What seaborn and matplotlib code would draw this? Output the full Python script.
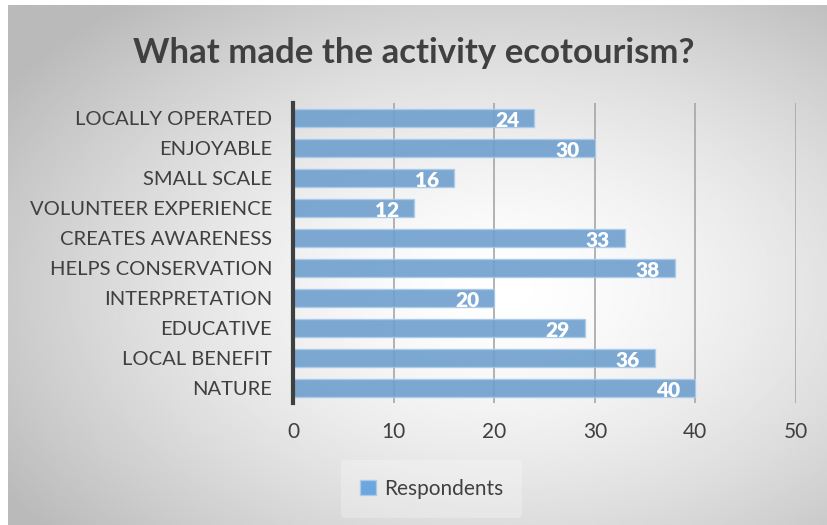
import matplotlib
matplotlib.use("Agg")
import matplotlib.pyplot as plt
import numpy as np
import pandas as pd
import seaborn as sns
from matplotlib.patches import Patch

# data, top to bottom as in the chart
categories = ["LOCALLY OPERATED", "ENJOYABLE", "SMALL SCALE", "VOLUNTEER EXPERIENCE",
              "CREATES AWARENESS", "HELPS CONSERVATION", "INTERPRETATION",
              "EDUCATIVE", "LOCAL BENEFIT", "NATURE"]
respondents = [24, 30, 16, 12, 33, 38, 20, 29, 36, 40]
x_ticks = [0, 10, 20, 30, 40, 50]

df = pd.DataFrame({"Category": categories, "Respondents": respondents})

sns.set_theme(style="white")
plt.rcParams['font.family'] = ['Lato', 'DejaVu Sans']
text_col = "#404040"
bar_col = "#5E9FDD"

fig = plt.figure(figsize=(8.27, 5.25), dpi=100)
fig.patch.set_facecolor("white")

# radial gray background like the excel chart area
bg = fig.add_axes([8/827, 0, 1 - 8/827, 1 - 5/525], zorder=-10)
gx, gy = np.meshgrid(np.linspace(0, 1, 400), np.linspace(0, 1, 260))
r = np.sqrt(((gx - 0.6) / 0.72) ** 2 + ((gy - 0.55) / 0.72) ** 2)
shade = 1.0 - 0.27 * np.clip(r, 0, 1) ** 1.5
bg.imshow(shade, cmap="gray", vmin=0, vmax=1, aspect="auto", extent=(0, 1, 0, 1))
bg.axis("off")

ax = fig.add_axes([293/827, 1 - 403/525, (796 - 293)/827, 300/525])
ax.patch.set_alpha(0)

sns.barplot(data=df, y="Category", x="Respondents", orient="h", ax=ax,
            color=bar_col, width=0.57, alpha=0.9, edgecolor="#A9CBEA",
            linewidth=1, zorder=3)

ax.set_xlim(0, 50)
ax.set_xticks(x_ticks)
ax.set_ylim(len(categories) - 0.5, -0.5)
ax.xaxis.grid(True, color="#a6a6a6", linewidth=1.2, zorder=1)
ax.set_axisbelow(True)
for s in ["top", "right", "bottom"]:
    ax.spines[s].set_visible(False)
ax.spines["left"].set_color("#404040")
ax.spines["left"].set_linewidth(3)
ax.spines["left"].set_zorder(5)
ax.tick_params(axis="x", length=0, pad=14, labelsize=15, labelcolor=text_col)
ax.tick_params(axis="y", length=0, pad=15, labelsize=14.5, labelcolor=text_col)
ax.set_xlabel("")
ax.set_ylabel("")

# value labels inside the bar ends
for p, v in zip(ax.patches, respondents):
    ax.text(p.get_width() - 1.5, p.get_y() + p.get_height() / 2 + 0.08, str(v),
            ha="right", va="center", color="white", fontsize=15,
            fontweight="heavy", zorder=6)

fig.text(0.5, 1 - 53/525, "What made the activity ecotourism?", ha="center",
         va="center", fontsize=25, fontweight="bold", color=text_col)

leg = fig.legend(handles=[Patch(facecolor=bar_col, alpha=0.9, edgecolor="#A9CBEA", label="Respondents")],
                 loc="center", bbox_to_anchor=(0.522, 1 - 489/525), frameon=True,
                 fontsize=15, handlelength=0.75, handleheight=0.75, handletextpad=0.4,
                 borderpad=0.9)
leg.get_frame().set_facecolor("white")
leg.get_frame().set_alpha(0.25)
leg.get_frame().set_edgecolor("none")
for t in leg.get_texts():
    t.set_color(text_col)

fig.savefig("out.png", dpi=100)
